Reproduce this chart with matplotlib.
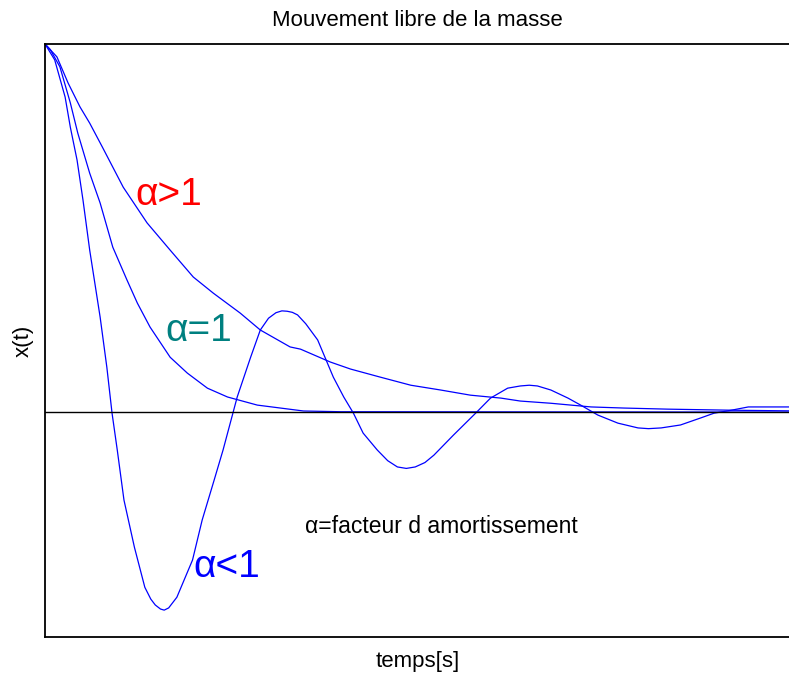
import matplotlib
matplotlib.use("Agg")
import matplotlib.pyplot as plt

plt.rcParams['font.family'] = ['Liberation Sans', 'DejaVu Sans']

# curves (time in arbitrary units, position normalised to x(0)=1)
t_over = [0, 0.16, 0.31, 0.47, 0.60, 0.77, 1.05, 1.37, 1.68, 1.99, 2.26, 2.62, 2.89,
          3.29, 3.43, 3.83, 4.10, 4.50, 4.91, 5.31, 5.71, 6.12, 6.38, 6.79, 7.33,
          7.77, 8.36, 9.25, 10.15]
x_over = [1.0, 0.965, 0.894, 0.829, 0.785, 0.720, 0.611, 0.514, 0.440, 0.367, 0.323,
          0.269, 0.223, 0.177, 0.171, 0.136, 0.117, 0.095, 0.073, 0.060, 0.046, 0.038,
          0.030, 0.024, 0.014, 0.011, 0.008, 0.005, 0.003]

t_crit = [0, 0.07, 0.20, 0.34, 0.44, 0.60, 0.74, 0.91, 1.10, 1.24, 1.41, 1.68, 1.91,
          2.18, 2.45, 2.85, 3.47, 3.97, 10.15]
x_crit = [1.0, 0.985, 0.938, 0.840, 0.758, 0.649, 0.568, 0.448, 0.359, 0.296, 0.231,
          0.149, 0.106, 0.065, 0.041, 0.019, 0.003, 0.001, 0.0]

t_under = [0, 0.13, 0.27, 0.34, 0.43, 0.51, 0.60, 0.74, 0.83, 0.90, 0.97, 1.06, 1.20,
           1.34, 1.42, 1.48, 1.55, 1.60, 1.66, 1.77, 1.98, 2.11, 2.27, 2.39, 2.58,
           2.76, 2.89, 3.00, 3.10, 3.18, 3.25, 3.32, 3.39, 3.50, 3.66, 3.87, 4.01,
           4.14, 4.27, 4.46, 4.60, 4.73, 4.85, 4.97, 5.10, 5.22, 5.48, 5.78, 5.98,
           6.21, 6.38, 6.50, 6.61, 6.79, 7.02, 7.19, 7.42, 7.69, 7.96, 8.10, 8.27,
           8.53, 8.80, 8.98, 9.21, 9.44, 10.15]
x_under = [1.0, 0.957, 0.856, 0.774, 0.685, 0.576, 0.440, 0.258, 0.122, -0.003, -0.103,
           -0.239, -0.367, -0.476, -0.508, -0.524, -0.535, -0.538, -0.532, -0.503,
           -0.402, -0.293, -0.185, -0.103, 0.041, 0.149, 0.223, 0.255, 0.270, 0.275,
           0.274, 0.271, 0.264, 0.240, 0.196, 0.095, 0.041, -0.003, -0.057, -0.103,
           -0.132, -0.149, -0.153, -0.149, -0.137, -0.117, -0.063, -0.003, 0.038,
           0.065, 0.071, 0.073, 0.071, 0.060, 0.038, 0.019, -0.008, -0.030, -0.043,
           -0.045, -0.043, -0.035, -0.016, -0.003, 0.005, 0.014, 0.014]

fig = plt.figure(figsize=(7.89, 6.75), dpi=100)
ax = fig.add_axes([45 / 789, 38 / 675, 745 / 789, 593 / 675])

for t, x in [(t_over, x_over), (t_crit, x_crit), (t_under, x_under)]:
    ax.plot(t, x, color='#0000ff', lw=0.9)
ax.axhline(0, color='black', lw=1.0)

ax.set_xlim(0, 10.0)
ax.set_ylim(-0.611, 1.0)
ax.set_xticks([])
ax.set_yticks([])
for s in ax.spines.values():
    s.set_linewidth(1.3)

ax.set_title("Mouvement libre de la masse", fontsize=16, pad=13)
ax.set_xlabel("temps[s]", fontsize=16, labelpad=10)
ax.set_ylabel("x(t)", fontsize=16, labelpad=8)

ax.text(1.21, 0.59, "α>1", color='#ff0000', fontsize=28, va='center')
ax.text(1.62, 0.22, "α=1", color='#008080', fontsize=28, va='center')
ax.text(1.99, -0.42, "α<1", color='#0000ff', fontsize=28, va='center')
ax.text(3.49, -0.31, "α=facteur d amortissement", color='black', fontsize=16.5, va='center')

fig.savefig("out.png", dpi=100)
